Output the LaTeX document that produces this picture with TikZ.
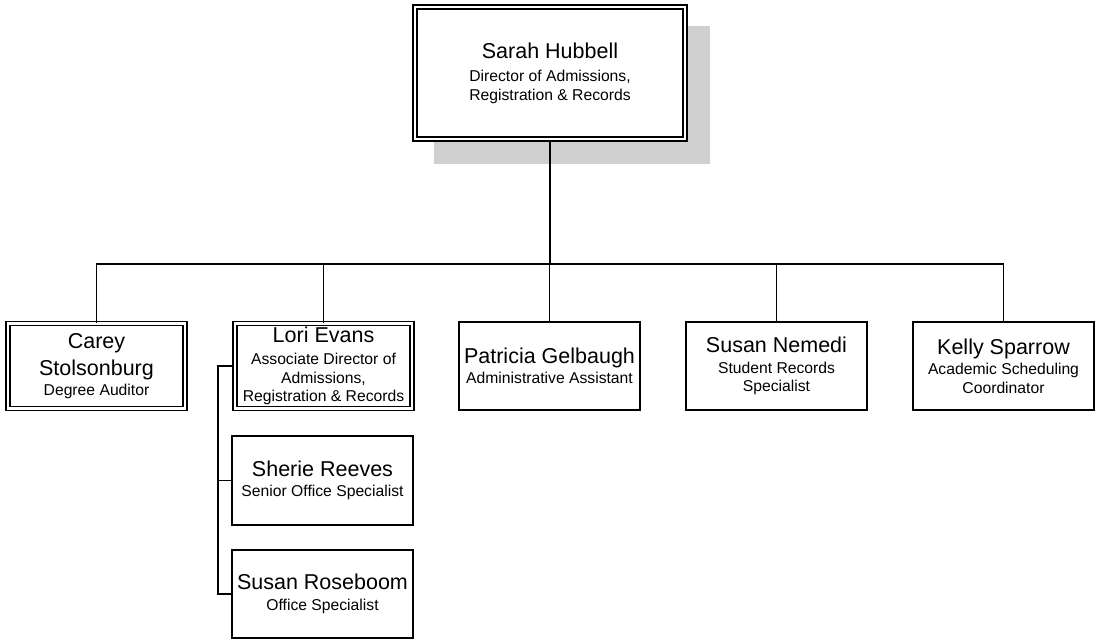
\documentclass[tikz,border=0pt]{standalone}
\usepackage{fontspec}
\setmainfont{Liberation Sans}
\definecolor{shadowgray}{RGB}{208,208,208}
\newcommand{\nm}[1]{{\fontsize{21.5}{25}\selectfont #1}}
\begin{document}
\begin{tikzpicture}[x=1pt,y=-1pt,
  every node/.style={font=\fontsize{15.7}{18.5}\selectfont, align=center, inner sep=0pt},
  single/.style={draw, line width=1.9pt, fill=white, minimum width=181.5pt, minimum height=88.5pt},
  dbl/.style={draw, line width=1.6pt, double, double distance=2.6pt, fill=white, minimum width=177pt, minimum height=85pt},
  link/.style={line width=1.9pt}]
\useasboundingbox (0,0) rectangle (1100,642);
% shadow of top box
\fill[shadowgray] (434,26) rectangle (710,164);
\node[dbl, minimum width=270pt, minimum height=132pt] (top) at (550,73)
  {\nm{Sarah Hubbell}\\[5pt] Director of Admissions,\\ Registration \& Records};
\node[dbl] (carey) at (96.5,366) {\nm{Carey}\\[6pt] \nm{Stolsonburg}\\[1pt] Degree Auditor};
\node[dbl] (lori) at (323.5,366) {\nm{Lori Evans}\\[4pt] Associate Director of\\ Admissions,\\ Registration \& Records};
\node[single] (patricia) at (549.5,366) {\nm{Patricia Gelbaugh}\\[2pt] Administrative Assistant};
\node[single] (nemedi) at (776.5,366) {\nm{Susan Nemedi}\\[2pt] Student Records\\ Specialist};
\node[single] (kelly) at (1003.5,366) {\nm{Kelly Sparrow}\\[2pt] Academic Scheduling\\ Coordinator};
\node[single] (sherie) at (322.5,480.5) {\nm{Sherie Reeves}\\[2pt] Senior Office Specialist};
\node[single] (rose) at (322.5,594) {\nm{Susan Roseboom}\\[2pt] Office Specialist};
\coordinate (bus) at (550,264);
\coordinate (spine) at (218,366);
\draw[link] (top.south) -- (top.south |- bus);
\draw[link] (carey.north) |- (kelly.north |- bus) -- (kelly.north);
\draw[link] (lori.north) -- (lori.north |- bus);
\draw[link] (patricia.north) -- (patricia.north |- bus);
\draw[link] (nemedi.north) -- (nemedi.north |- bus);
\draw[link] (lori.west) -- (spine) |- (rose.west);
\draw[link] (spine |- sherie.west) -- (sherie.west);
\end{tikzpicture}
\end{document}
